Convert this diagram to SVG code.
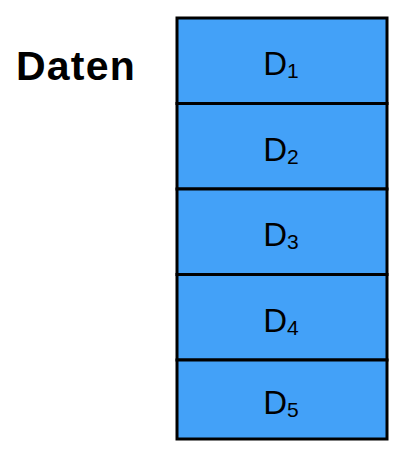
<svg xmlns="http://www.w3.org/2000/svg" width="402" height="456" viewBox="0 0 402 456">
<style>
.cell{fill:#43A1F8;stroke:#000;stroke-width:3}
.lbl{font-family:"Liberation Sans",Arial,sans-serif;font-size:33px;fill:#000;text-anchor:middle}
.sub{font-size:21px}
.title{font-family:"Liberation Sans",Arial,sans-serif;font-size:41px;font-weight:bold;fill:#000;letter-spacing:1.2px}
</style>
<rect width="402" height="456" fill="#fff"/>
<g id="title"><text class="title" x="16" y="80">Daten</text></g>
<g id="d1"><rect class="cell" x="177" y="18" width="210" height="85.5"/><text class="lbl" x="281" y="75">D<tspan class="sub" dy="3">1</tspan></text></g>
<g id="d2"><rect class="cell" x="177" y="103.5" width="210" height="85.5"/><text class="lbl" x="281" y="160.5">D<tspan class="sub" dy="3">2</tspan></text></g>
<g id="d3"><rect class="cell" x="177" y="189" width="210" height="85.5"/><text class="lbl" x="281" y="246">D<tspan class="sub" dy="3">3</tspan></text></g>
<g id="d4"><rect class="cell" x="177" y="274.5" width="210" height="85.5"/><text class="lbl" x="281" y="331.5">D<tspan class="sub" dy="3">4</tspan></text></g>
<g id="d5"><rect class="cell" x="177" y="360" width="210" height="79"/><text class="lbl" x="281" y="414">D<tspan class="sub" dy="3">5</tspan></text></g>
<g id="connectors"></g>
</svg>
